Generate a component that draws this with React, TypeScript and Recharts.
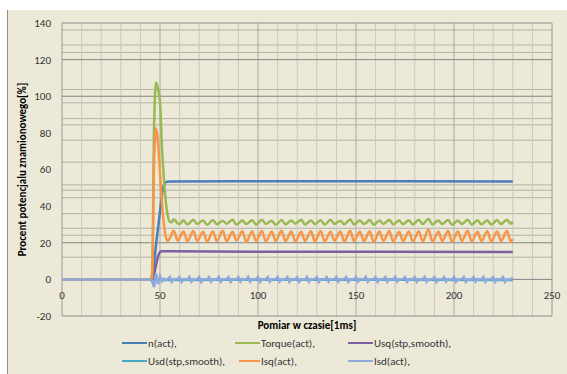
import { LineChart, Line, XAxis, YAxis, CartesianGrid } from 'recharts';

// time [ms] / value [%] pairs
const nAct: [number, number][] = [
  [0, 0], [45, 0], [46, 0.5], [47, 9], [48, 19], [49, 28], [50, 37], [51, 46], [52, 51.5], [53, 53.2],
  [55, 53.5], [120, 53.6], [230, 53.5],
];

const torqueAct: [number, number][] = [
  [0, 0], [45, 0], [46, 3], [47, 85], [48, 107.5], [49, 104], [50, 97], [51, 72], [52, 55], [53, 42],
  [54, 34.5], [55, 31.5], [56, 31.2], [57, 32.8], [58, 32], [59, 30.5], [60, 30.2], [62, 32.3], [64, 30],
  [67, 32.5], [69, 30.3], [72, 32.2], [74, 29.8], [77, 32.4], [79, 30.1], [82, 32], [84, 30.4], [87, 32.6],
  [89, 29.9], [92, 32.1], [94, 30.2], [97, 32.3], [99, 30], [102, 32.5], [104, 30.3], [107, 32], [109, 29.8],
  [112, 32.4], [114, 30.1], [117, 32.2], [119, 30.4], [122, 32.6], [124, 30], [127, 32.1], [129, 30.2],
  [132, 32.3], [134, 29.9], [137, 32.5], [139, 30.3], [142, 32], [144, 30.1], [147, 32.7], [149, 30],
  [152, 32.2], [154, 30.2], [157, 32.4], [159, 29.8], [162, 32.1], [164, 30.3], [167, 32.5], [169, 30],
  [172, 32.2], [174, 30.1], [177, 32.3], [179, 29.9], [182, 32.6], [184, 30.2], [187, 33], [189, 30],
  [192, 32.2], [194, 30.3], [197, 32.4], [199, 29.8], [202, 32.1], [204, 30.2], [207, 32.5], [209, 30],
  [212, 32.3], [214, 30.1], [217, 32.2], [219, 29.9], [222, 32.4], [224, 30.2], [227, 32.6], [229, 30.3],
  [230, 31.5],
];

const usqStp: [number, number][] = [
  [0, 0], [46, 0], [47, 3], [48, 8], [49, 12.5], [50, 15], [51, 15.4], [55, 15.3], [100, 15.1], [230, 15],
];

const usdStp: [number, number][] = [
  [0, 0], [45, 0], [46, -0.5], [47, -2], [48, 1], [49, -0.8], [50, 0.3], [52, -0.3], [120, -0.2], [230, -0.3],
];

const isqAct: [number, number][] = [
  [0, 0], [45, 0], [46, 1], [47, 65], [48, 82.5], [49, 75], [50, 58], [51, 42], [52, 30], [53, 23],
  [54, 21], [55, 22.5], [57, 26.5], [59, 21.2], [62, 26.2], [64, 20.8], [67, 26.4], [69, 21], [72, 26],
  [74, 20.6], [77, 26.2], [79, 21], [82, 26.5], [84, 20.8], [87, 26], [89, 21.2], [92, 26.3], [94, 20.5],
  [97, 26.1], [99, 21], [102, 26.4], [104, 20.7], [107, 26], [109, 21], [112, 26.5], [114, 20.8], [117, 26.2],
  [119, 20.6], [122, 26], [124, 21], [127, 26.3], [129, 20.9], [132, 26.4], [134, 20.7], [137, 26],
  [139, 21.1], [142, 26.2], [144, 20.6], [147, 26.5], [149, 21], [152, 26], [154, 20.8], [157, 26.3],
  [159, 20.5], [162, 26.1], [164, 21], [167, 26.4], [169, 20.7], [172, 26], [174, 21], [177, 26.2],
  [179, 20.6], [182, 26.3], [184, 20.8], [187, 27.3], [189, 20.5], [192, 26], [194, 21], [197, 26.4],
  [199, 20.6], [202, 26.2], [204, 21], [207, 26.5], [209, 20.7], [212, 26], [214, 21], [217, 26.3],
  [219, 20.6], [222, 26.1], [224, 21], [227, 26.4], [229, 20.5], [230, 22],
];

// Isd sampled every 1 ms from t = 44 to 230 (zero before)
const isdStart = 44;
const isdAct = [
  0, 0, -1.2, -4.2, 3.3, -2.6, 1.8, -1.0, 0.4, -0.2,
  0.1, 1.3, -1.4, 0.2, -0.1, 0.1, 1.2, -1.3, 0.2, 0,
  0.1, 1.4, -1.3, 0.1, -0.1, 0.2, 1.3, -1.4, 0.1, 0,
  -0.1, 1.2, -1.2, 0.2, 0, 0.1, 1.4, -1.3, 0.1, -0.1,
  0.2, 1.3, -1.4, 0.1, 0, 0.1, 1.3, -1.2, 0.2, -0.1,
  0.1, 1.4, -1.3, 0.1, 0, 0.2, 1.2, -1.4, 0.1, -0.1,
  0.1, 1.3, -1.3, 0.2, 0, 0.1, 1.4, -1.2, 0.1, -0.1,
  0.2, 1.3, -1.4, 0.1, 0, 0.1, 1.2, -1.3, 0.2, 0,
  0.1, 1.4, -1.3, 0.1, -0.1, 0.2, 1.3, -1.4, 0.1, 0,
  -0.1, 1.2, -1.2, 0.2, 0, 0.1, 1.4, -1.3, 0.1, -0.1,
  0.2, 1.3, -1.4, 0.1, 0, 0.1, 1.3, -1.2, 0.2, -0.1,
  0.1, 1.4, -1.3, 0.1, 0, 0.2, 1.2, -1.4, 0.1, -0.1,
  0.1, 1.3, -1.3, 0.2, 0, 0.1, 1.4, -1.2, 0.1, -0.1,
  0.2, 1.3, -1.4, 0.1, 0, 0.1, 1.2, -1.3, 0.2, 0,
  0.1, 1.4, -1.3, 0.1, -0.1, 0.2, 1.3, -1.4, 0.1, 0,
  -0.1, 1.2, -1.2, 0.2, 0, 0.1, 1.4, -1.3, 0.1, -0.1,
  0.2, 1.3, -1.4, 0.1, 0, 0.1, 1.3, -1.2, 0.2, -0.1,
  0.1, 1.4, -1.3, 0.1, 0, 0.2, 1.2, -1.4, 0.1, -0.1,
  0.1, 1.3, -1.3, 0.2, 0, 0.1, 1.0,
];

const xTicks = [0, 50, 100, 150, 200, 250];
const yTicks = [-20, 0, 20, 40, 60, 80, 100, 120, 140];

// gridlines as they show in the picture
const hGridDark = [120, 100, 20, 0];
const hGridLight = [136.2, 128, 123.9, 103.7, 96.4, 87.8, 84.4, 76, 64, 51.6, 48.7, 44.6, 35.9, 27.9, 24.1, 12.1];
const hBorder = [140, -20];
const vGridMinor = [10, 20, 30, 40, 60, 70, 80, 90, 110, 120, 130, 140, 160, 170, 180, 190, 210, 220, 230, 240];
const vGridMajor = [50, 100, 150, 200];
const vBorder = [0, 250];

const series = [
  { name: 'n(act),', color: '#4A7EBB', pts: nAct, type: 'monotone' },
  { name: 'Torque(act),', color: '#98B954', pts: torqueAct, type: 'monotone' },
  { name: 'Usq(stp,smooth),', color: '#7D5FA0', pts: usqStp, type: 'monotone' },
  { name: 'Usd(stp,smooth),', color: '#46AAC5', pts: usdStp, type: 'monotone' },
  { name: 'Isq(act),', color: '#F79646', pts: isqAct, type: 'monotone' },
  { name: 'Isd(act),', color: '#8EA9DB', pts: [[0, 0] as [number, number], ...isdAct.map((v, i) => [isdStart + i, v] as [number, number])], type: 'linear' },
];

const FONT = "Carlito, Lato, 'Liberation Sans', sans-serif";

const legendPos = [
  { left: 122, top: 343, sw: 25 },
  { left: 235, top: 343, sw: 25 },
  { left: 348, top: 343, sw: 25 },
  { left: 122, top: 361, sw: 25 },
  { left: 239, top: 361, sw: 21 },
  { left: 348, top: 361, sw: 25 },
];

const XTick = (props: any) => (
  <text x={props.x} y={props.y - 17} textAnchor="middle" fill="#333" fontSize={11} fontFamily={FONT}>
    {props.payload.value}
  </text>
);

export default function App() {
  return (
    <div style={{ position: 'absolute', left: 0, top: 0, width: 567, height: 374, background: '#fff', fontFamily: FONT }}>
      <div style={{ position: 'absolute', left: 7, top: 10, right: 0, bottom: 0, background: '#ECE9D8', borderLeft: '1px solid #8E8E8E' }} />
      <div style={{ position: 'absolute', left: 0, top: 0 }}>
        <LineChart width={567} height={374} margin={{ top: 23, right: 15, bottom: 0, left: 12 }}>
          <CartesianGrid vertical={false} horizontalValues={hGridLight} stroke="#B4B2A8" strokeWidth={1} />
          <CartesianGrid horizontal={false} verticalValues={vGridMinor} stroke="#CAC8BE" strokeWidth={1} />
          <CartesianGrid horizontal={false} verticalValues={vGridMajor} stroke="#ABAAA2" strokeWidth={1} />
          <CartesianGrid vertical={false} horizontalValues={hGridDark} stroke="#858585" strokeWidth={1} />
          <CartesianGrid vertical={false} horizontalValues={hBorder} stroke="#8E8E8E" strokeWidth={1} />
          <CartesianGrid horizontal={false} verticalValues={vBorder} stroke="#9A9A9A" strokeWidth={1} />
          <XAxis
            dataKey="t"
            type="number"
            domain={[0, 250]}
            ticks={xTicks}
            height={58}
            axisLine={false}
            tickLine={false}
            tickSize={0}
            tickMargin={0}
            tick={<XTick />}
            interval={0}
            allowDuplicatedCategory={false}
            label={{
              value: 'Pomiar w czasie[1ms]',
              position: 'insideTop',
              offset: 5,
              style: { fontWeight: 'bold', fontSize: 11, fill: '#000', fontFamily: FONT },
            }}
          />
          <YAxis
            type="number"
            domain={[-20, 140]}
            ticks={yTicks}
            width={50}
            axisLine={false}
            tickLine={false}
            tickSize={0}
            tickMargin={11}
            interval={0}
            tick={{ fill: '#333', fontSize: 11, fontFamily: FONT }}
            label={{
              value: 'Procent potencjalu znamionowego[%]',
              angle: -90,
              position: 'insideLeft',
              offset: 10,
              style: { textAnchor: 'middle', fontWeight: 'bold', fontSize: 11, fill: '#000', fontFamily: FONT },
            }}
          />
          {series.map((s) => (
            <Line
              key={s.name}
              data={s.pts.map(([t, v]) => ({ t, v }))}
              dataKey="v"
              type={s.type as any}
              stroke={s.color}
              strokeWidth={2.5}
              dot={false}
              activeDot={false}
              isAnimationActive={false}
              name={s.name}
            />
          ))}
        </LineChart>
      </div>
      {series.map((s, i) => (
        <div
          key={s.name}
          style={{
            position: 'absolute',
            left: legendPos[i].left,
            top: legendPos[i].top - 8,
            height: 16,
            display: 'flex',
            alignItems: 'center',
            fontSize: 11,
            color: '#333',
            whiteSpace: 'nowrap',
          }}
        >
          <span style={{ display: 'inline-block', width: legendPos[i].sw, height: 2.5, background: s.color, marginRight: 1 }} />
          {s.name}
        </div>
      ))}
    </div>
  );
}
